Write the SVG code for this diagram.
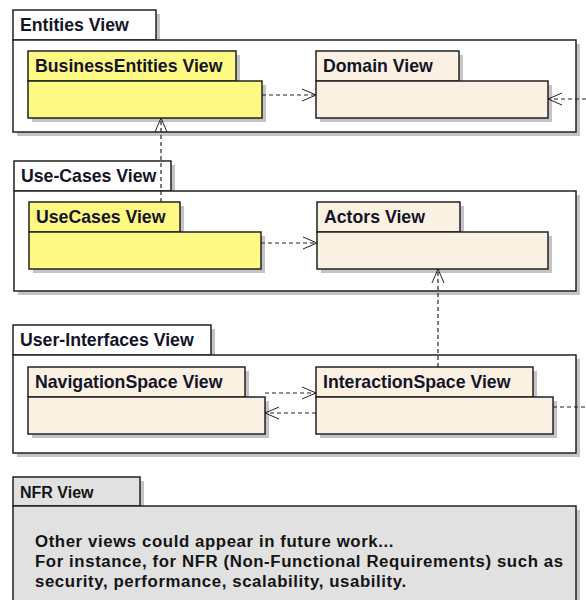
<svg xmlns="http://www.w3.org/2000/svg" width="586" height="600" viewBox="0 0 586 600">
<defs>
<marker id="open" markerUnits="userSpaceOnUse" markerWidth="16" markerHeight="14" refX="14" refY="7" orient="auto" overflow="visible">
<path d="M0,1 L14,7 L0,13" fill="none" stroke="#222" stroke-width="1"/>
</marker>
</defs>
<style>
.sh{fill:#c4c4c4}
.frame{fill:#ffffff;stroke:#222;stroke-width:1.5}
.yel{fill:#fdf982;stroke:#222;stroke-width:1.5}
.bei{fill:#fbf1e2;stroke:#222;stroke-width:1.5}
.gry{fill:#e1e1e1;stroke:#222;stroke-width:1.5}
.t{font-family:"Liberation Sans",Arial,sans-serif;font-weight:bold;font-size:17.7px;fill:#141428}
.n{font-family:"Liberation Sans",Arial,sans-serif;font-weight:bold;font-size:16.8px;letter-spacing:0.6px;fill:#141414}
.c{fill:none;stroke:#222;stroke-width:1.2;stroke-dasharray:4,3}
</style>
<rect width="586" height="600" fill="#ffffff"/>

<g id="entities-view">
<rect class="sh" x="17" y="14" width="143" height="30"/>
<rect class="sh" x="17" y="44" width="563" height="92"/>
<rect class="frame" x="13" y="10" width="143" height="30"/>
<rect class="frame" x="13" y="40" width="563" height="92"/>
<text class="t" x="20" y="31">Entities View</text>
</g>
<g id="businessentities-view">
<rect class="sh" x="32" y="55" width="208" height="30"/>
<rect class="sh" x="32" y="85" width="234" height="37"/>
<rect class="yel" x="28" y="51" width="208" height="30"/>
<rect class="yel" x="28" y="81" width="234" height="37"/>
<text class="t" x="35" y="72">BusinessEntities View</text>
</g>
<g id="domain-view">
<rect class="sh" x="320" y="55" width="143" height="30"/>
<rect class="sh" x="320" y="85" width="232" height="37"/>
<rect class="bei" x="316" y="51" width="143" height="30"/>
<rect class="bei" x="316" y="81" width="232" height="37"/>
<text class="t" x="323" y="72">Domain View</text>
</g>

<g id="use-cases-view">
<rect class="sh" x="18" y="165" width="157" height="30"/>
<rect class="sh" x="18" y="195" width="562" height="100"/>
<rect class="frame" x="14" y="161" width="157" height="30"/>
<rect class="frame" x="14" y="191" width="562" height="100"/>
<text class="t" x="21" y="182">Use-Cases View</text>
</g>
<g id="usecases-view">
<rect class="sh" x="33" y="206" width="151" height="30"/>
<rect class="sh" x="33" y="236" width="232" height="37"/>
<rect class="yel" x="29" y="202" width="151" height="30"/>
<rect class="yel" x="29" y="232" width="232" height="37"/>
<text class="t" x="36" y="223">UseCases View</text>
</g>
<g id="actors-view">
<rect class="sh" x="321" y="206" width="143" height="30"/>
<rect class="sh" x="321" y="236" width="231" height="37"/>
<rect class="bei" x="317" y="202" width="143" height="30"/>
<rect class="bei" x="317" y="232" width="231" height="37"/>
<text class="t" x="324" y="223">Actors View</text>
</g>

<g id="user-interfaces-view">
<rect class="sh" x="17" y="329" width="198" height="30"/>
<rect class="sh" x="17" y="359" width="563" height="98"/>
<rect class="frame" x="13" y="325" width="198" height="30"/>
<rect class="frame" x="13" y="355" width="563" height="98"/>
<text class="t" x="20" y="346">User-Interfaces View</text>
</g>
<g id="navigationspace-view">
<rect class="sh" x="32" y="371" width="217" height="30"/>
<rect class="sh" x="32" y="401" width="237" height="37"/>
<rect class="bei" x="28" y="367" width="217" height="30"/>
<rect class="bei" x="28" y="397" width="237" height="37"/>
<text class="t" x="35" y="388">NavigationSpace View</text>
</g>
<g id="interactionspace-view">
<rect class="sh" x="320" y="371" width="217" height="30"/>
<rect class="sh" x="320" y="401" width="237" height="37"/>
<rect class="bei" x="316" y="367" width="217" height="30"/>
<rect class="bei" x="316" y="397" width="237" height="37"/>
<text class="t" x="323" y="388">InteractionSpace View</text>
</g>

<g id="nfr-view">
<rect class="sh" x="17" y="481" width="127" height="29"/>
<rect class="sh" x="17" y="510" width="563" height="94"/>
<rect class="gry" x="13" y="477" width="127" height="29"/>
<rect class="gry" x="13" y="506" width="563" height="100"/>
<text class="n" x="20" y="498" style="font-size:16px;letter-spacing:0">NFR View</text>
<text class="n" x="35" y="547">Other views could appear in future work...</text>
<text class="n" x="35" y="567">For instance, for NFR (Non-Functional Requirements) such as</text>
<text class="n" x="35" y="587">security, performance, scalability, usability.</text>
</g>

<g id="connectors">
<line class="c" x1="262" y1="95" x2="316" y2="95" marker-end="url(#open)"/>
<line class="c" x1="586" y1="99" x2="548" y2="99" marker-end="url(#open)"/>
<line class="c" x1="161" y1="202" x2="161" y2="118" marker-end="url(#open)"/>
<line class="c" x1="261" y1="243" x2="317" y2="243" marker-end="url(#open)"/>
<line class="c" x1="438" y1="367" x2="438" y2="269" marker-end="url(#open)"/>
<line class="c" x1="265" y1="393" x2="316" y2="393" marker-end="url(#open)"/>
<line class="c" x1="316" y1="413" x2="265" y2="413" marker-end="url(#open)"/>
<line class="c" x1="553" y1="407" x2="586" y2="407"/>
</g>
</svg>
